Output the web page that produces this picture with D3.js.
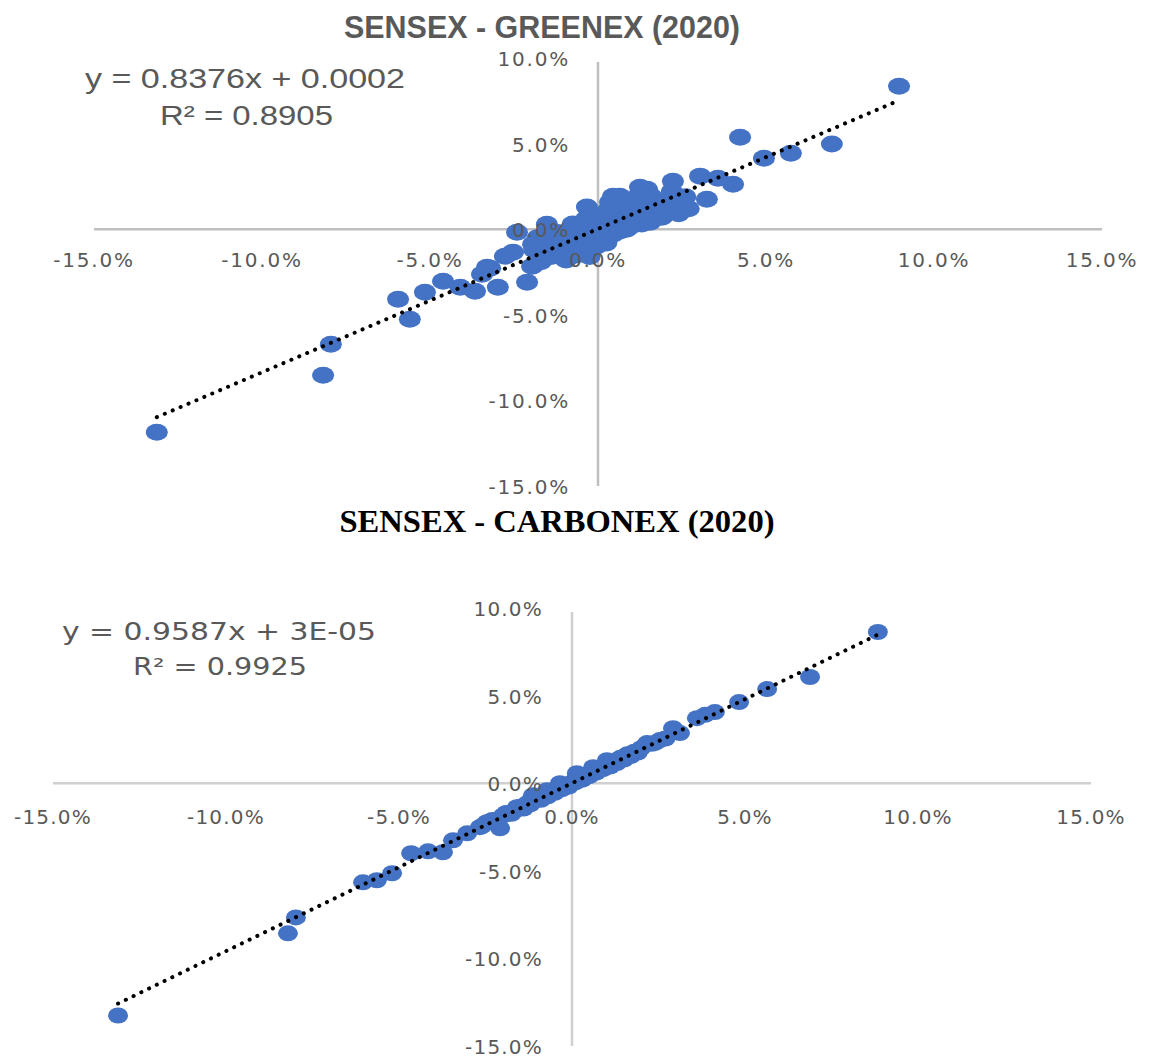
<!DOCTYPE html>
<html>
<head>
<meta charset="utf-8">
<script src="https://cdn.jsdelivr.net/npm/d3@7"></script>
<style>
  body { margin: 0; background: #fff; }
  svg { display: block; }
</style>
</head>
<body>
<svg id="chart" width="1155" height="1061"></svg>
<script>
// Values in percent
const xTicks = [-15, -10, -5, 0, 5, 10, 15];
const yTicks = [-15, -10, -5, 0, 5, 10];

const greenexTitle = "SENSEX - GREENEX (2020)";
const greenexEquation = "y = 0.8376x + 0.0002";
const greenexR2 = "R² = 0.8905";
const greenexFit = [0.8376, 0.02]; // slope, intercept (in %)

// [SENSEX, GREENEX]
const greenexPoints = [
  [8.96, 8.35], [6.96, 4.97], [5.74, 4.44], [4.94, 4.15], [4.23, 5.37],
  [4.02, 2.63], [3.57, 2.98], [3.24, 1.75], [3.04, 3.1], [2.23, 2.8],
  [2.53, 1.58], [1.85, 1.58], [1.46, 2.34], [1.25, 2.45], [0.65, 1.93],
  [0.45, 1.93], [0.36, 1.58], [-0.33, 1.29], [-1.52, 0.29], [-2.41, -0.18],
  [-2.77, -1.58], [-2.53, -1.34], [-3.3, -2.22], [-3.21, -2.28], [-3.45, -2.63],
  [-2.98, -3.39], [-3.66, -3.62], [-4.1, -3.39], [-4.61, -3.04], [-5.15, -3.68],
  [-5.95, -4.09], [-5.6, -5.26], [-7.95, -6.72], [-8.18, -8.53], [-13.13, -11.86],
  [-2.11, -3.1], [-1.93, -0.88], [-1.96, -2.16],
  [-1.9, -1.2], [-1.8, -0.5], [-1.7, -1.9], [-1.6, -1.1], [-1.5, -0.6],
  [-1.4, -1.6], [-1.3, -0.9], [-1.2, -0.2], [-1.15, -1.4], [-1.05, -0.7],
  [-0.95, -1.8], [-0.9, -0.3], [-0.8, -1.0], [-0.75, 0.3], [-0.65, -1.5],
  [-0.6, -0.5], [-0.5, 0.1], [-0.45, -1.1], [-0.4, -0.3], [-0.35, 0.6],
  [-0.3, -0.8], [-0.25, -1.6], [-0.2, 0.0], [-0.15, -0.5], [-0.1, 0.4],
  [-0.05, -1.0], [0.0, 0.2], [0.05, -0.4], [0.1, 0.8], [0.15, -0.2],
  [0.2, 0.5], [0.25, -0.8], [0.3, 1.1], [0.35, 0.1], [0.4, 0.6],
  [0.45, -0.3], [0.5, 1.3], [0.55, 0.3], [0.6, 0.9], [0.65, -0.1],
  [0.7, 1.6], [0.75, 0.5], [0.8, 1.0], [0.85, 0.0], [0.9, 1.4],
  [0.95, 0.7], [1.0, 0.2], [1.05, 1.1], [1.1, 1.8], [1.15, 0.5],
  [1.2, 0.9], [1.3, 0.3], [1.35, 1.5], [1.4, 0.7], [1.5, 1.1],
  [1.55, 0.4], [1.6, 1.9], [1.7, 0.8], [1.8, 1.3], [1.9, 0.7],
  [2.0, 1.6], [2.1, 1.0], [2.2, 2.2], [2.3, 1.3], [2.4, 0.9],
  [2.6, 1.9], [2.7, 1.2]
];

const carbonexTitle = "SENSEX - CARBONEX (2020)";
const carbonexEquation = "y = 0.9587x + 3E-05";
const carbonexR2 = "R² = 0.9925";
const carbonexFit = [0.9587, 0.003];

// [SENSEX, CARBONEX]
const carbonexPoints = [
  [8.84, 8.63], [6.88, 6.06], [5.64, 5.37], [4.83, 4.63], [4.13, 4.06],
  [3.85, 3.9], [3.61, 3.71], [3.12, 2.86], [2.92, 3.14], [2.54, 2.46],
  [2.17, 2.29], [1.59, 1.6], [1.01, 1.31], [0.61, 0.91], [0.14, 0.57],
  [-0.35, 0.0], [-0.72, -0.4], [-1.13, -0.69], [-1.59, -1.37], [-1.88, -1.71],
  [-2.08, -2.57], [-2.46, -2.23], [-2.66, -2.51], [-3.03, -2.86], [-3.44, -3.26],
  [-3.73, -3.94], [-4.16, -3.89], [-4.65, -4.0], [-5.2, -5.14], [-5.64, -5.54],
  [-6.04, -5.66], [-7.98, -7.66], [-8.21, -8.57], [-13.12, -13.26],
  [-2.0, -1.85], [-1.9, -1.7], [-1.75, -1.75], [-1.6, -1.5], [-1.5, -1.35],
  [-1.4, -1.45], [-1.3, -1.15], [-1.2, -1.2], [-1.1, -1.0], [-1.0, -0.85],
  [-0.9, -0.95], [-0.8, -0.7], [-0.7, -0.75], [-0.6, -0.5], [-0.5, -0.55],
  [-0.4, -0.3], [-0.3, -0.35], [-0.2, -0.1], [-0.1, -0.2], [0.0, 0.05],
  [0.1, 0.05], [0.2, 0.3], [0.3, 0.2], [0.4, 0.45], [0.5, 0.4],
  [0.6, 0.65], [0.7, 0.6], [0.8, 0.85], [0.9, 0.8], [1.0, 1.05],
  [1.1, 0.95], [1.2, 1.25], [1.3, 1.15], [1.4, 1.45], [1.5, 1.35],
  [1.6, 1.65], [1.7, 1.55], [1.8, 1.8], [1.9, 1.75], [2.0, 2.0],
  [2.3, 2.25], [2.4, 2.3], [2.7, 2.55], [-2.3, -2.1], [-2.6, -2.45]
];

const svg = d3.select("#chart");
// plain hyphen for negatives, like Excel
const pct = d3.formatLocale({ decimal: ".", thousands: ",", grouping: [3], currency: ["", ""], minus: "-" }).format(".1f");

const drawScatter = (cfg) => {
  const xScale = d3.scaleLinear().domain([-15, 15]).range(cfg.xRange);
  const yScale = d3.scaleLinear().domain([-15, 10]).range(cfg.yRange);
  const g = svg.append("g");

  // axes through the origin
  g.append("line")
    .attr("x1", xScale(-15)).attr("x2", xScale(15))
    .attr("y1", yScale(0)).attr("y2", yScale(0))
    .attr("stroke", cfg.axisColor).attr("stroke-width", 2.5);
  g.append("line")
    .attr("x1", xScale(0)).attr("x2", xScale(0))
    .attr("y1", yScale(10) + 4).attr("y2", yScale(-15))
    .attr("stroke", cfg.axisColor).attr("stroke-width", 2.5);

  // points
  g.selectAll("ellipse")
    .data(cfg.points)
    .join("ellipse")
      .attr("cx", d => xScale(d[0]))
      .attr("cy", d => yScale(d[1]))
      .attr("rx", cfg.rx)
      .attr("ry", cfg.ry)
      .attr("fill", "#4472C4");

  // linear trendline, dotted
  const xs = d3.extent(cfg.points, d => d[0]);
  const fitLine = d3.line()
    .x(d => xScale(d))
    .y(d => yScale(cfg.fit[0] * d + cfg.fit[1]));
  g.append("path")
    .attr("d", fitLine(xs))
    .attr("fill", "none")
    .attr("stroke", "#000")
    .attr("stroke-width", 4)
    .attr("stroke-linecap", "round")
    .attr("stroke-dasharray", "0.1 8.5");

  // tick labels (drawn after points, like the original)
  g.selectAll(".xlab")
    .data(xTicks)
    .join("text")
      .attr("class", "xlab")
      .attr("x", d => xScale(d))
      .attr("y", yScale(0) + cfg.xLabOffset)
      .attr("text-anchor", "middle")
      .text(d => pct(d) + "%");
  g.selectAll(".ylab")
    .data(yTicks)
    .join("text")
      .attr("class", "ylab")
      .attr("x", xScale(0) - cfg.yLabOffset)
      .attr("y", d => yScale(d) + 8)
      .attr("text-anchor", "end")
      .text(d => pct(d) + "%");
  g.selectAll(".xlab, .ylab")
    .attr("fill", "#595959")
    .style("font-family", "'DejaVu Sans', Verdana, sans-serif")
    .style("font-size", cfg.tickSize + "px")
    .style("letter-spacing", cfg.tickSpacing + "px");

  // title
  g.append("text")
    .attr("x", cfg.title.x)
    .attr("y", cfg.title.y)
    .attr("text-anchor", "middle")
    .attr("textLength", cfg.title.w)
    .attr("lengthAdjust", "spacingAndGlyphs")
    .attr("fill", cfg.title.color)
    .style("font-family", cfg.title.font)
    .style("font-weight", "bold")
    .style("font-size", cfg.title.size + "px")
    .text(cfg.title.text);

  // equation + R²
  cfg.labels.forEach(l => {
    g.append("text")
      .attr("x", l.x)
      .attr("y", l.y)
      .attr("textLength", l.w)
      .attr("lengthAdjust", "spacingAndGlyphs")
      .attr("fill", "#595959")
      .style("font-family", cfg.labelFont)
      .style("font-size", cfg.labelSize + "px")
      .text(l.text);
  });
};

drawScatter({
  points: greenexPoints,
  fit: greenexFit,
  xRange: [94, 1102],
  yRange: [486, 58],
  rx: 11, ry: 8.5,
  axisColor: "#bfbfbf",
  xLabOffset: 38,
  yLabOffset: 28,
  tickSize: 20,
  tickSpacing: 1.8,
  title: { text: greenexTitle, x: 542, y: 38, w: 396, size: 31,
           color: "#595959", font: "'Liberation Sans Narrow', 'Arial Narrow', sans-serif" },
  labelFont: "'Liberation Sans', Arial, sans-serif",
  labelSize: 27,
  labels: [
    { text: greenexEquation, x: 85, y: 88, w: 320 },
    { text: greenexR2, x: 160, y: 125, w: 173 }
  ]
});

drawScatter({
  points: carbonexPoints,
  fit: carbonexFit,
  xRange: [53, 1091],
  yRange: [1046, 608],
  rx: 10, ry: 8,
  axisColor: "#d0d0d0",
  xLabOffset: 41,
  yLabOffset: 29,
  tickSize: 20,
  tickSpacing: 1.2,
  title: { text: carbonexTitle, x: 557, y: 532, w: 435, size: 32,
           color: "#000", font: "'Liberation Serif', 'Times New Roman', serif" },
  labelFont: "'DejaVu Sans', Verdana, sans-serif",
  labelSize: 24,
  labels: [
    { text: carbonexEquation, x: 62, y: 640, w: 314 },
    { text: carbonexR2, x: 133, y: 675, w: 174 }
  ]
});
</script>
</body>
</html>
